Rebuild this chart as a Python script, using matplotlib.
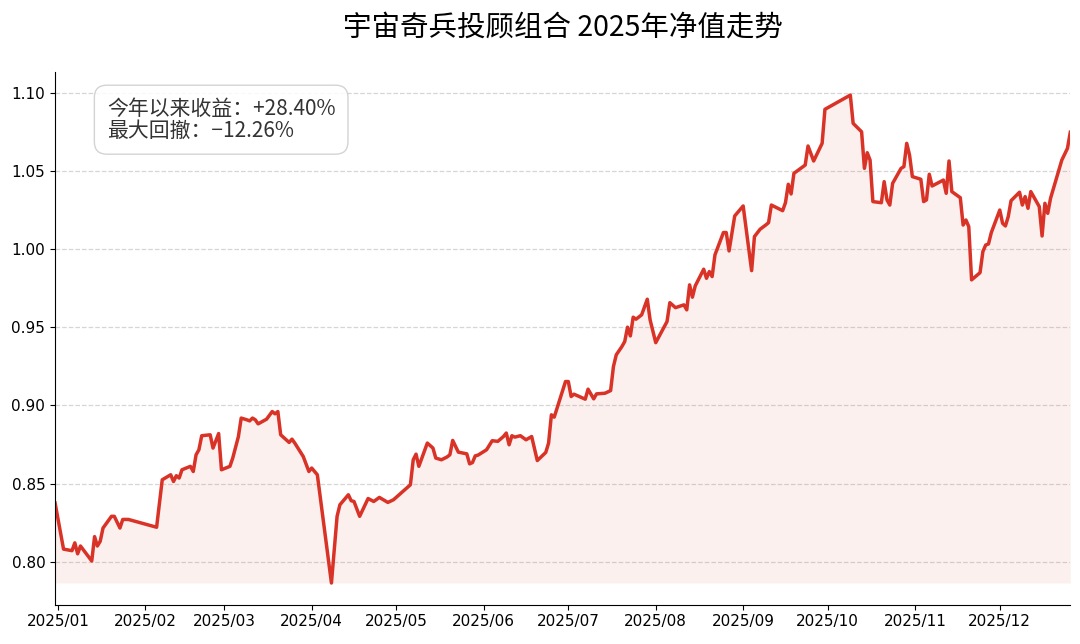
import numpy as np
import matplotlib
matplotlib.use("Agg")
import matplotlib.pyplot as plt
import matplotlib.dates as mdates

# ---- data (day offsets from 2025-01-01, net values) ----
day_offsets = [-1, 2, 5, 6, 7, 8, 12, 13, 14, 15, 16, 19, 20, 22, 23, 25, 35, 37, 40, 41,
               42, 43, 44, 47, 48, 49, 50, 51, 54, 55, 57, 58, 61, 62, 64, 65, 67, 68, 69, 70,
               71, 74, 76, 77, 78, 79, 82, 83, 84, 87, 89, 90, 92, 97, 99, 100, 103, 104, 105, 107,
               110, 112, 114, 117, 119, 125, 126, 127, 128, 131, 133, 134, 136, 138, 139, 140, 142, 145, 146, 147,
               148, 149, 152, 154, 156, 158, 159, 160, 161, 162, 164, 166, 168, 170, 173, 174, 175, 176, 180, 181,
               182, 183, 187, 188, 190, 191, 194, 196, 197, 198, 200, 201, 202, 203, 204, 205, 207, 209, 210, 212,
               216, 217, 219, 222, 223, 224, 225, 226, 229, 230, 231, 232, 233, 236, 237, 238, 240, 243, 246, 247,
               249, 251, 252, 253, 257, 258, 259, 260, 261, 265, 266, 268, 271, 272, 281, 282, 285, 286, 287, 288,
               289, 292, 293, 294, 295, 296, 299, 300, 301, 302, 303, 306, 307, 308, 309, 310, 314, 315, 316, 317,
               320, 321, 322, 323, 324, 327, 328, 329, 330, 331, 334, 335, 336, 337, 338, 341, 342, 343, 344, 345,
               348, 349, 350, 351, 352, 356, 358, 359]
nav_values = [0.8375, 0.808, 0.807, 0.812, 0.805, 0.810, 0.8004, 0.816, 0.810, 0.813, 0.8215, 0.829, 0.829, 0.8215, 0.827, 0.827, 0.822, 0.8524, 0.8556, 0.8513,
              0.855, 0.8535, 0.8588, 0.861, 0.8577, 0.8684, 0.8716, 0.8806, 0.8812, 0.8727, 0.882, 0.8588, 0.861, 0.8663, 0.880, 0.8919, 0.8908, 0.8901, 0.8919, 0.8908,
              0.8882, 0.8912, 0.8961, 0.8946, 0.8961, 0.8812, 0.8763, 0.8784, 0.8759, 0.8673, 0.8577, 0.8599, 0.8556, 0.7863, 0.829, 0.8364, 0.8428, 0.839, 0.8385, 0.829,
              0.8404, 0.8385, 0.8411, 0.8379, 0.8396, 0.8492, 0.8652, 0.8688, 0.861, 0.8759, 0.8727, 0.8663, 0.8652, 0.867, 0.8684, 0.8776, 0.8701, 0.869, 0.8626, 0.8634,
              0.8677, 0.8682, 0.8716, 0.8774, 0.877, 0.8801, 0.8823, 0.8748, 0.8806, 0.8797, 0.8806, 0.878, 0.8801, 0.8647, 0.8699, 0.8759, 0.894, 0.8925, 0.9153, 0.9153,
              0.9057, 0.9072, 0.904, 0.9104, 0.9042, 0.9074, 0.9078, 0.9095, 0.9249, 0.9324, 0.9377, 0.9409, 0.9501, 0.9445, 0.9565, 0.9552, 0.958, 0.968, 0.9548, 0.9402,
              0.9537, 0.9658, 0.9626, 0.9644, 0.9612, 0.9772, 0.9693, 0.9765, 0.9872, 0.9814, 0.9857, 0.9825, 0.9964, 1.0107, 1.0107, 0.9989, 1.0213, 1.0277, 0.9863, 1.0081,
              1.0128, 1.0155, 1.017, 1.0283, 1.0247, 1.0298, 1.0416, 1.0354, 1.0486, 1.0539, 1.0661, 1.0565, 1.0678, 1.0896, 1.0987, 1.0806, 1.0752, 1.0518, 1.0618, 1.0571,
              1.0305, 1.0298, 1.0433, 1.0316, 1.0283, 1.0422, 1.0518, 1.0529, 1.0678, 1.0603, 1.0465, 1.0448, 1.0305, 1.0316, 1.048, 1.0405, 1.0443, 1.0358, 1.0565, 1.0369,
              1.033, 1.0155, 1.0187, 1.0145, 0.9804, 0.985, 0.9985, 1.0027, 1.0034, 1.0107, 1.0251, 1.0166, 1.0149, 1.0209, 1.0311, 1.0365, 1.0283, 1.0337, 1.0262, 1.0369,
              1.0273, 1.0085, 1.0294, 1.023, 1.0326, 1.0571, 1.0646, 1.0749]

title_text = "宇宙奇兵投顾组合 2025年净值走势"
stats_text = "今年以来收益：+28.40%\n最大回撤：−12.26%"
y_ticks = [0.80, 0.85, 0.90, 0.95, 1.00, 1.05, 1.10]

dates = np.datetime64("2025-01-01") + np.array(day_offsets).astype("timedelta64[D]")
values = np.array(nav_values)

cjk = ["Noto Sans CJK SC", "DejaVu Sans"]

fig = plt.figure(figsize=(10.8, 6.44), dpi=100)
ax = fig.add_axes([0.051, 0.061, 0.940, 0.827])

line_color = "#d93328"
ax.fill_between(dates, values, values.min(), color=line_color, alpha=0.07, linewidth=0)
ax.plot(dates, values, color=line_color, linewidth=2.5)

ax.set_xlim(dates[0], dates[-1])
ax.set_ylim(0.7724, 1.1134)
ax.set_yticks(y_ticks)
ax.yaxis.set_major_formatter(matplotlib.ticker.FormatStrFormatter("%.2f"))
ax.xaxis.set_major_locator(mdates.MonthLocator())
ax.xaxis.set_major_formatter(mdates.DateFormatter("%Y/%m"))
ax.tick_params(labelsize=11)

ax.grid(axis="y", linestyle="--", color="#cccccc", linewidth=0.9, alpha=0.8)
ax.set_axisbelow(True)
for s in ("top", "right"):
    ax.spines[s].set_visible(False)

ax.set_title(title_text, fontsize=20.5, family=cjk, pad=26)

ax.text(0.051, 0.952, stats_text, transform=ax.transAxes, va="top", ha="left",
        fontsize=15, family=cjk, linespacing=1.0, color="#333333",
        bbox=dict(boxstyle="round,pad=0.6", facecolor="white", edgecolor="#cccccc", alpha=0.85))

fig.savefig("out.png", dpi=100)
